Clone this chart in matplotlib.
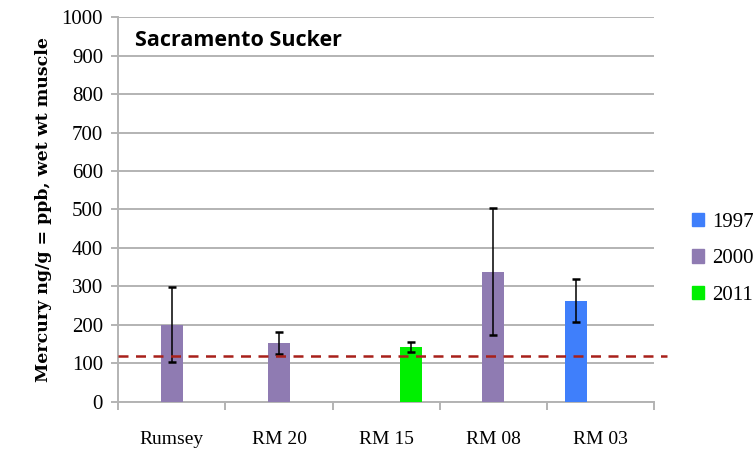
import matplotlib
matplotlib.use("Agg")
import matplotlib.pyplot as plt
from matplotlib.patches import Patch
import numpy as np

# sites along the river, upstream to downstream
sites = ["Rumsey", "RM 20", "RM 15", "RM 08", "RM 03"]
years = ["1997", "2000", "2011"]

# mean mercury (ng/g wet wt) and error per year; None = not sampled
hg_1997 = [None, None, None, None, 263]
hg_2000 = [200, 153, None, 338, None]
hg_2011 = [None, None, 142, None, None]
err_1997 = [None, None, None, None, 55]
err_2000 = [98, 28, None, 165, None]
err_2011 = [None, None, 14, None, None]

threshold = 120  # screening value, ng/g

colors = {"1997": "#3f7ffb", "2000": "#8f7bb2", "2011": "#00f000"}

fig = plt.figure(figsize=(7.56, 4.54), dpi=100)
ax = fig.add_axes([0.1565, 0.1152, 0.7089, 0.8467])

x = np.arange(len(sites))
width = 0.205
offsets = {"1997": -0.23, "2000": 0.0, "2011": 0.23}
series = {"1997": (hg_1997, err_1997), "2000": (hg_2000, err_2000),
          "2011": (hg_2011, err_2011)}

for yr in years:
    vals, errs = series[yr]
    for i, (v, e) in enumerate(zip(vals, errs)):
        if v is None:
            continue
        xi = x[i] + offsets[yr]
        ax.bar(xi, v, width, color=colors[yr], zorder=3)
        ax.errorbar(xi, v, yerr=e, fmt="none", ecolor="black",
                    elinewidth=1.1, capsize=3, capthick=1.8, zorder=4)

# dashed screening line runs a little past the plot area
ax.plot([-0.5, len(sites) - 0.5 + 0.12], [threshold, threshold],
        ls=(0, (4, 3)), color="#a8201a", lw=1.8, zorder=5, clip_on=False)

ax.set_xlim(-0.5, len(sites) - 0.5)
ax.set_ylim(0, 1000)
ax.set_yticks(np.arange(0, 1001, 100))
ax.yaxis.grid(True, color="#b3b3b3", lw=1.4, zorder=0)
ax.set_axisbelow(True)

ax.set_xticks(x)
ax.set_xticklabels(sites)
ax.set_xticks(np.arange(-0.5, len(sites)), minor=True)
ax.tick_params(axis="x", which="major", length=0, pad=21)
ax.tick_params(axis="x", which="minor", length=6, width=1.4, color="#b3b3b3")
ax.tick_params(axis="y", length=5, width=1.4, color="#b3b3b3", pad=6)

for lab in ax.get_xticklabels():
    lab.set_fontfamily("Liberation Serif")
    lab.set_fontsize(14)
for lab in ax.get_yticklabels():
    lab.set_fontfamily("Liberation Serif")
    lab.set_fontsize(15)

for side in ["top", "right"]:
    ax.spines[side].set_visible(False)
for side in ["left", "bottom"]:
    ax.spines[side].set_color("#b3b3b3")
    ax.spines[side].set_linewidth(1.4)

ax.set_ylabel("Mercury ng/g = ppb, wet wt muscle", family="DejaVu Serif",
              fontweight="bold", fontsize=12.5, labelpad=7)

ax.text(0.032, 0.94, "Sacramento Sucker", transform=ax.transAxes,
        family="Open Sans", fontweight="bold", fontsize=15.5, va="center")

handles = [Patch(color=colors[yr], label=yr) for yr in years]
leg = fig.legend(handles=handles, loc="center left",
                 bbox_to_anchor=(0.89, 0.43), frameon=False,
                 prop={"family": "Liberation Serif", "size": 15},
                 handlelength=0.6, handleheight=0.6, handletextpad=0.4,
                 labelspacing=0.85)

fig.savefig("out.png", dpi=100)
